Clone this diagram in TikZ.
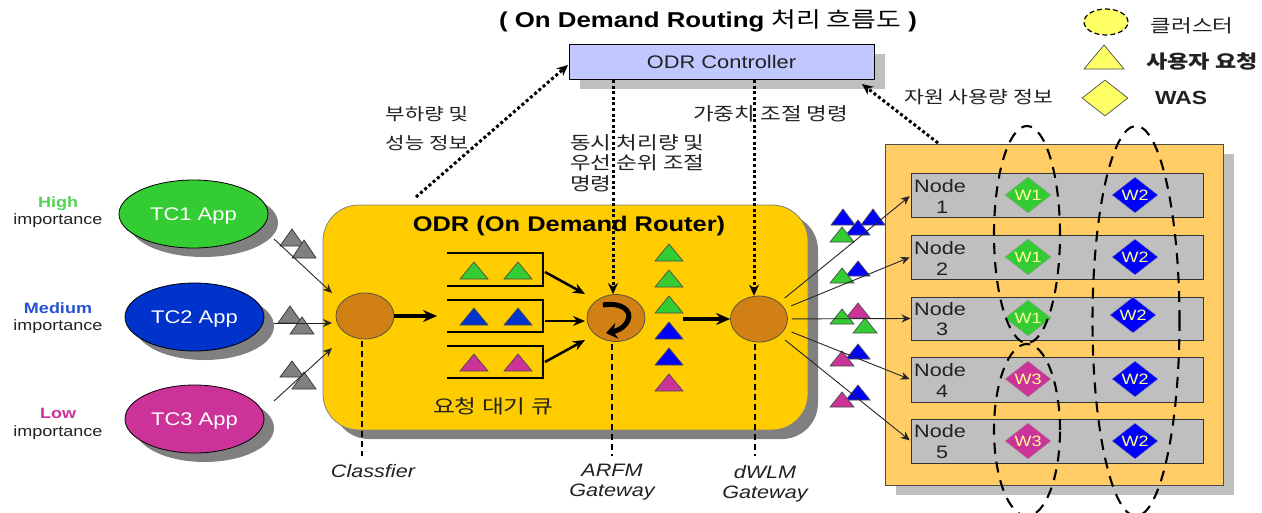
\documentclass[tikz,border=0pt]{standalone}
\usepackage{fontspec}
\setmainfont[FakeStretch=1.2]{Liberation Sans}
\newfontfamily\cjk[FakeStretch=1.25]{Noto Sans CJK KR}
\usetikzlibrary{shapes.geometric,arrows.meta,shadows}
\definecolor{cgreen}{HTML}{33CC33}
\definecolor{cblue}{HTML}{0033CC}
\definecolor{cpure}{HTML}{0000FF}
\definecolor{cmag}{HTML}{CC3399}
\definecolor{codr}{HTML}{FFCC00}
\definecolor{cpanel}{HTML}{FFCC66}
\definecolor{crow}{HTML}{BFBFBF}
\definecolor{cctl}{HTML}{C0C8FF}
\definecolor{corb}{HTML}{D08014}
\definecolor{cgray}{HTML}{808080}
\definecolor{clegend}{HTML}{FFFF66}
\definecolor{cwtext}{HTML}{FFFF99}
\definecolor{cink}{HTML}{222222}
\newcommand\fsz[1]{\fontsize{#1}{#1}\selectfont}
\newcommand\reqtri[5]{\draw[#5] (#1-#4,#3) -- (#1,#2) -- (#1+#4,#3) -- cycle;}
\newcommand\capmid[2]{\raisebox{-#1pt}[0pt][0pt]{#2}}
\tikzset{
  x=1pt,y=-1pt,
  label text/.style={inner sep=0pt,text=cink,align=left},
  shadow dark/.style={general shadow={shadow xshift=10pt,shadow yshift=-9pt,fill=cgray}},
  shadow light/.style={general shadow={shadow xshift=11pt,shadow yshift=-10pt,fill=crow}},
  app/.style={ellipse,draw=black,line width=.8pt,inner sep=0pt,text=white,font=\fsz{18.3},shadow dark},
  orb/.style={ellipse,draw=black!70,fill=corb,line width=.7pt,minimum width=58pt,minimum height=46pt,inner sep=0pt},
  rowbox/.style={rectangle,draw=black!80,fill=crow,line width=.9pt,minimum width=292pt,minimum height=44pt,inner sep=0pt},
  wbox/.style={diamond,draw=black!40,inner sep=0pt,minimum width=46pt,minimum height=36pt,text=cwtext,font=\fsz{15}},
  cluster/.style={ellipse,draw=black,line width=2.1pt,dash pattern=on 11pt off 8pt,inner sep=0pt},
  thin arrow/.style={-{Stealth[length=9pt,width=8pt]},line width=.9pt,draw=black!85},
  fat arrow/.style={-{Stealth[length=14pt,width=12pt]},line width=3.4pt},
  mid arrow/.style={-{Stealth[length=12pt,width=10pt]},line width=2.5pt},
  dot arrow/.style={-{Stealth[length=11pt,width=10pt]},line width=3pt,dash pattern=on 3pt off 2.6pt},
  dash drop/.style={line width=1.3pt,dash pattern=on 6pt off 4pt},
  queue/.style={line width=2.6pt},
  tgreen/.style={fill=cgreen,draw=black!70,line width=.7pt},
  tblue/.style={fill=cblue,draw=black!70,line width=.7pt},
  tpure/.style={fill=cpure,draw=black!70,line width=.7pt},
  tmag/.style={fill=cmag,draw=black!70,line width=.7pt},
  tgray/.style={fill=cgray,draw=black!80,line width=.7pt},
}
\begin{document}
\begin{tikzpicture}
\clip (0,0) rectangle (1262,512);
\fill[white] (0,0) rectangle (1262,512);

% title
\node[label text,font=\fsz{21.5}\bfseries,text=black] (title) at (708,21) {( On Demand Routing {\cjk\mdseries 처리 흐름도} )};

% legend
\node[ellipse,draw=black,fill=clegend,line width=1.2pt,dash pattern=on 5pt off 3pt,minimum width=44pt,minimum height=26pt,inner sep=0pt] (legc) at (1106,22) {};
\node[label text,font=\cjk\fsz{18}] (legct) at (1192,26) {클러스터};
\reqtri{1104}{45}{69}{20}{fill=clegend,draw=black!70,line width=.7pt}
\node[label text,font=\cjk\fsz{18.5}\bfseries] (legtt) at (1202,62) {사용자 요청};
\node[diamond,draw=black!70,fill=clegend,line width=.7pt,minimum width=46pt,minimum height=36pt,inner sep=0pt] (legd) at (1105,98) {};
\node[label text,font=\fsz{19}\bfseries] (legdt) at (1181,98) {WAS};

% controller
\node[rectangle,draw=black,fill=cctl,line width=.8pt,minimum width=305pt,minimum height=35pt,inner sep=0pt,text=cink,font=\fsz{18.2},shadow light] (ctl) at (721.5,61.5) {\capmid{6.5}{ODR Controller}};

% importance labels
\node[inner sep=0pt,font=\fsz{15}\bfseries,text=cgreen!85!white] (hi) at (58,204) {High};
\node[label text,font=\fsz{15}] (hi2) at (58,221) {importance};
\node[inner sep=0pt,font=\fsz{15}\bfseries,text=cblue!85!white] (me) at (58,308) {Medium};
\node[label text,font=\fsz{15}] (me2) at (58,327) {importance};
\node[inner sep=0pt,font=\fsz{15}\bfseries,text=cmag] (lo) at (58,413) {Low};
\node[label text,font=\fsz{15}] (lo2) at (58,433) {importance};

% apps
\node[app,fill=cgreen,minimum width=149pt,minimum height=68pt] (tc1) at (193.5,214) {\capmid{6.5}{TC1 App}};
\node[app,fill=cblue,minimum width=139pt,minimum height=68pt] (tc2) at (194.5,317) {\capmid{6.5}{TC2 App}};
\node[app,fill=cmag,minimum width=139pt,minimum height=68pt] (tc3) at (194.5,419) {\capmid{6.5}{TC3 App}};

% router body
\node[rectangle,rounded corners=36pt,draw=black!50,fill=codr,line width=.8pt,minimum width=485pt,minimum height=225pt,inner sep=0pt,general shadow={shadow xshift=10pt,shadow yshift=-9pt,fill=cgray}] (odr) at (565.5,317.5) {};
\node[inner sep=0pt,font=\fsz{21.2}\bfseries,text=black] (odrt) at (569,226) {ODR (On Demand Router)};

% processing points
\node[orb] (cls) at (365,316) {};
\node[orb,minimum height=47pt] (arfm) at (616,318) {};
\node[orb,minimum width=57pt] (dw) at (759,319) {};
\draw[line width=5pt,-{Stealth[length=11pt,width=16pt]}] (603,305) .. controls (622,302) and (632,311) .. (628,320) .. controls (625,328) and (616,331) .. (606,333);

% queues
\coordinate (q1a) at (447,253); \coordinate (q1b) at (543,253); \coordinate (q1c) at (543,286); \coordinate (q1d) at (447,286);
\coordinate (q2a) at (447,300); \coordinate (q2b) at (543,300); \coordinate (q2c) at (543,332); \coordinate (q2d) at (447,332);
\coordinate (q3a) at (447,346); \coordinate (q3b) at (543,346); \coordinate (q3c) at (543,378); \coordinate (q3d) at (447,378);
\draw[queue] (q1a) -- (q1b) -- (q1c) -- (q1d);
\draw[queue] (q2a) -- (q2b) -- (q2c) -- (q2d);
\draw[queue] (q3a) -- (q3b) -- (q3c) -- (q3d);
\reqtri{474}{262}{279}{14}{tgreen}
\reqtri{518}{262}{279}{14}{tgreen}
\reqtri{474}{308}{325}{14}{tblue}
\reqtri{518}{308}{325}{14}{tblue}
\reqtri{474}{354}{371}{14}{tmag}
\reqtri{518}{354}{371}{14}{tmag}
\node[label text,font=\cjk\fsz{19}] (qlabel) at (493,406) {요청 대기 큐};

% stream in the router
\reqtri{669}{244}{261}{14}{tgreen}
\reqtri{669}{270}{287}{14}{tgreen}
\reqtri{669}{296}{313}{14}{tgreen}
\reqtri{669}{322}{339}{14}{tpure}
\reqtri{669}{348}{365}{14}{tpure}
\reqtri{669}{374}{391}{14}{tmag}

\coordinate (qin) at (437,316);
\coordinate (q1o) at (545,272); \coordinate (q2o) at (545,321); \coordinate (q3o) at (545,362);
\coordinate (af1) at (585,294); \coordinate (af2) at (585,321); \coordinate (af3) at (585,340);
\coordinate (sout) at (683,319);
\draw[fat arrow] (cls) -- (qin);
\draw[mid arrow] (q1o) -- (af1);
\draw[mid arrow] (q2o) -- (af2);
\draw[mid arrow] (q3o) -- (af3);
\draw[fat arrow] (sout) -- (dw);

% drop lines
\coordinate (d1) at (362,456); \coordinate (d2) at (612,456); \coordinate (d3) at (755,456);
\draw[dash drop] (362,341) -- (d1);
\draw[dash drop] (612,344) -- (d2);
\draw[dash drop] (755,344) -- (d3);
\node[inner sep=0pt,font=\fsz{18}\itshape,text=cink] (lc) at (373,471) {Classfier};
\node[inner sep=0pt,font=\fsz{18}\itshape,text=cink,align=center] (la) at (612,470) {ARFM};
\node[inner sep=0pt,font=\fsz{18}\itshape,text=cink,align=center] (lag) at (612,492) {Gateway};
\node[inner sep=0pt,font=\fsz{18}\itshape,text=cink,align=center] (ld) at (765,472) {dWLM};
\node[inner sep=0pt,font=\fsz{18}\itshape,text=cink,align=center] (ldg) at (765,494) {Gateway};

% incoming requests
\reqtri{292}{229}{246}{12}{tgray}
\reqtri{304}{240}{258}{12}{tgray}
\reqtri{290}{306}{323}{12}{tgray}
\reqtri{302}{317}{334}{12}{tgray}
\reqtri{292}{361}{377}{12}{tgray}
\reqtri{304}{372}{389}{12}{tgray}
\coordinate (a1s) at (274,239); \coordinate (a1e) at (332,293);
\coordinate (a2s) at (274,323); \coordinate (a2e) at (332,323);
\coordinate (a3s) at (274,401); \coordinate (a3e) at (332,348);
\draw[thin arrow] (a1s) -- (a1e);
\draw[thin arrow] (a2s) -- (a2e);
\draw[thin arrow] (a3s) -- (a3e);

% cluster panel
\node[rectangle,draw=black!70,fill=cpanel,line width=.8pt,minimum width=338pt,minimum height=341pt,inner sep=0pt,shadow light] (panel) at (1054,314.5) {};
\node[rowbox] (n1) at (1057,195.5) {};
\node[rowbox] (n2) at (1057,257) {};
\node[rowbox,minimum height=43pt] (n3) at (1057,318.5) {};
\node[rowbox,minimum height=45pt] (n4) at (1057,379.5) {};
\node[rowbox] (n5) at (1057,441) {};
\foreach \nm/\tp/\tb/\num in {a/186/207/1,b/248/269/2,c/309/329/3,d/370/391/4,e/431/452/5}{
  \node[label text,font=\fsz{18},anchor=west] (nt\nm) at (914,\tp) {Node};
  \node[label text,font=\fsz{18}] (nn\nm) at (942,\tb) {\num};
}
\node[wbox,fill=cgreen] (w11) at (1028,195) {\capmid{5.4}{W1}};
\node[wbox,fill=cgreen] (w12) at (1028,257) {\capmid{5.4}{W1}};
\node[wbox,fill=cgreen] (w13) at (1028,318) {\capmid{5.4}{W1}};
\node[wbox,fill=cmag] (w34) at (1028,379) {\capmid{5.4}{W3}};
\node[wbox,fill=cmag] (w35) at (1028,441) {\capmid{5.4}{W3}};
\node[wbox,fill=cpure] (w21) at (1135,195) {\capmid{5.4}{W2}};
\node[wbox,fill=cpure] (w22) at (1135,257) {\capmid{5.4}{W2}};
\node[wbox,fill=cpure] (w23) at (1133,315) {\capmid{5.4}{W2}};
\node[wbox,fill=cpure] (w24) at (1135,379) {\capmid{5.4}{W2}};
\node[wbox,fill=cpure] (w25) at (1135,441) {\capmid{5.4}{W2}};
\node[cluster,minimum width=66pt,minimum height=217pt] (c1) at (1027,234.5) {};
\node[cluster,minimum width=66pt,minimum height=172pt] (c3) at (1027,430) {};
\node[cluster,minimum width=87pt,minimum height=390pt] (c2) at (1136,321) {};

% outgoing requests
\reqtri{843}{209}{225}{12}{tpure}
\reqtri{873}{209}{225}{12}{tpure}
\reqtri{858}{220}{235}{12}{tpure}
\reqtri{842}{227}{242}{12}{tgreen}
\reqtri{858}{261}{276}{12}{tpure}
\reqtri{842}{268}{283}{12}{tgreen}
\reqtri{858}{303}{318}{12}{tmag}
\reqtri{842}{309}{324}{12}{tgreen}
\reqtri{865}{318}{333}{12}{tgreen}
\reqtri{858}{344}{359}{12}{tpure}
\reqtri{842}{351}{366}{12}{tmag}
\reqtri{858}{385}{400}{12}{tpure}
\reqtri{842}{392}{407}{12}{tmag}
\draw[thin arrow,shorten <=7pt,shorten >=1pt] (dw) -- (n1.west);
\draw[thin arrow,shorten <=7pt,shorten >=1pt] (dw) -- (n2.west);
\draw[thin arrow,shorten <=4pt] (dw) -- (n3.west);
\draw[thin arrow,shorten <=7pt,shorten >=1pt] (dw) -- (n4.west);
\draw[thin arrow,shorten <=7pt,shorten >=1pt] (dw) -- (n5.west);

% control flows
\coordinate (f1s) at (416,197); \coordinate (f1e) at (568,65);
\coordinate (f2s) at (613,80); \coordinate (f3s) at (754,80);
\coordinate (f4s) at (938,143); \coordinate (f4e) at (862,84);
\draw[dot arrow] (f1s) -- (f1e);
\draw[dot arrow] (f2s) -- (f2s |- arfm.north);
\draw[dot arrow] (f3s) -- (f3s |- dw.north);
\draw[dot arrow] (f4s) -- (f4e);
\node[label text,font=\cjk\fsz{17},anchor=west] (t1) at (385,114) {부하량 및};
\node[label text,font=\cjk\fsz{17},anchor=west] (t2) at (385,143) {성능 정보};
\node[label text,font=\cjk\fsz{18},anchor=west] (t3) at (570,143) {동시 처리량 및};
\node[label text,font=\cjk\fsz{18},anchor=west] (t4) at (570,163) {우선 순위 조절};
\node[label text,font=\cjk\fsz{18},anchor=west] (t5) at (570,184) {명령};
\node[label text,font=\cjk\fsz{18},anchor=west] (t6) at (693,114) {가중치 조절 명령};
\node[label text,font=\cjk\fsz{17.3},anchor=west] (t7) at (904,97) {자원 사용량 정보};
\end{tikzpicture}
\end{document}
